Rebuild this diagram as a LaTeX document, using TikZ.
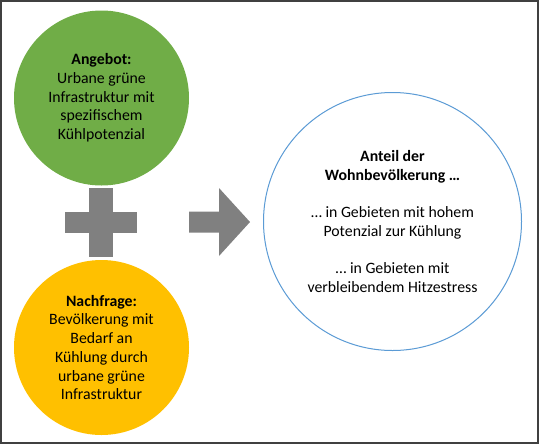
\documentclass[tikz,border=0pt]{standalone}
\usepackage{fontspec}
\setmainfont{Carlito}
\usetikzlibrary{positioning}
\definecolor{angebotgreen}{HTML}{70AD47}
\definecolor{nachfrageyellow}{HTML}{FFC000}
\definecolor{symbolgray}{HTML}{808080}
\definecolor{anteilblue}{HTML}{5B9BD5}
\definecolor{framegray}{HTML}{404040}

\begin{document}
\begin{tikzpicture}[x=1pt, y=-1pt,
    bubble/.style={circle, align=center, inner sep=0pt, font=\fontsize{15.8}{18.7}\selectfont},
    small/.style={bubble, minimum size=175pt, draw=none},
    big/.style={bubble, minimum size=258pt, draw=anteilblue, line width=1pt, fill=white},
]
\useasboundingbox (0,0) rectangle (540,445);
\draw[framegray, line width=1.4pt] (1,1) rectangle (538,443);

% Angebot (supply)
\node[small, fill=angebotgreen] (angebot) at (101.5,98)
  {\textbf{Angebot:}\\Urbane grüne\\Infrastruktur mit\\spezifischem\\Kühlpotenzial};

% Nachfrage (demand)
\node[small, fill=nachfrageyellow] (nachfrage) at (101.5,347.5)
  {\textbf{Nachfrage:}\\Bevölkerung mit\\Bedarf an\\Kühlung durch\\urbane grüne\\Infrastruktur};

% plus sign between both
\coordinate (plus) at (101,222.5);
\fill[symbolgray] ([xshift=-12pt, yshift=-34.5pt]plus) rectangle ([xshift=12pt, yshift=34.5pt]plus);
\fill[symbolgray] ([xshift=-36pt, yshift=-10.5pt]plus) rectangle ([xshift=36pt, yshift=10.5pt]plus);

% result
\node[big] (anteil) at (392.5,221.5)
  {\textbf{Anteil der}\\\textbf{Wohnbevölkerung …}\\[18.7pt]
   … in Gebieten mit hohem\\Potenzial zur Kühlung\\[18.7pt]
   … in Gebieten mit\\verbleibendem Hitzestress};

% arrow towards the result
\coordinate (pfeil) at (189,222);
\fill[symbolgray] (pfeil) ++(0,-10.5) -- ++(30,0) -- ++(0,-23.5) -- (250,222)
  -- (219,256) -- ++(0,-23.5) -- ++(-30,0) -- cycle;

\end{tikzpicture}
\end{document}
